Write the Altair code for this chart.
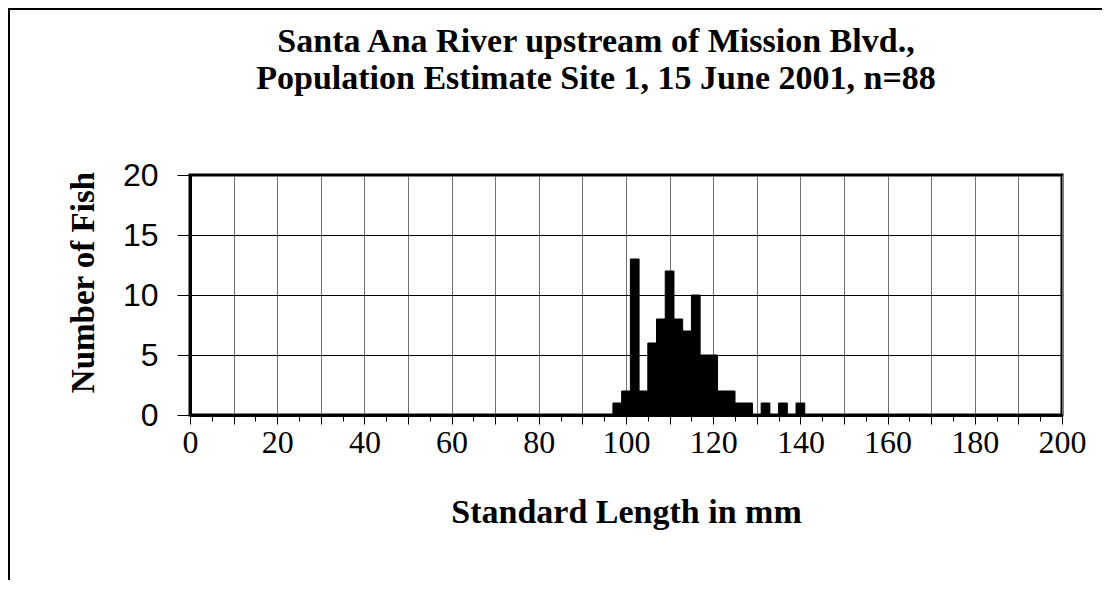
import altair as alt
import pandas as pd

# Histogram data (2 mm bins, centres in mm)
centers = [98, 100, 102, 104, 106, 108, 110, 112, 114, 116, 118, 120,
           122, 124, 126, 128, 130, 132, 134, 136, 138, 140]
counts = [1, 2, 13, 2, 6, 8, 12, 8, 7, 10, 5, 5,
          2, 2, 1, 1, 0, 1, 0, 1, 0, 1]
bin_width = 2

title_lines = ["Santa Ana River upstream of Mission Blvd.,",
               "Population Estimate Site 1, 15 June 2001, n=88"]
x_title = "Standard Length in mm"
y_title = "Number of Fish"
x_domain = [0, 200]
y_domain = [0, 20]
x_ticks = list(range(0, 201, 5))
y_ticks = [0, 5, 10, 15, 20]

df = pd.DataFrame({"center": centers, "count": counts})
df["start"] = df["center"] - bin_width / 2
df["end"] = df["center"] + bin_width / 2
df["zero"] = 0
df = df[df["count"] > 0]

serif = "Liberation Serif"
sans = "Liberation Sans"

x_axis = alt.Axis(
    values=x_ticks,
    title=x_title,
    titleFont=serif, titleFontSize=34, titleFontWeight="bold", titleColor="black",
    titleX=436, titleY=97, titleBaseline="middle", titleAlign="center",
    labelFont=serif, labelFontSize=32, labelColor="black",
    labelExpr="datum.value % 20 === 0 ? datum.label : ''",
    labelOverlap=False, labelFlush=False, labelPadding=3,
    tickSize={"condition": {"test": "datum.value % 10 === 0", "value": 9}, "value": 6},
    tickColor="black", tickWidth=1,
    grid=True, gridColor="#707070", gridWidth=1,
    gridOpacity={"condition": {"test": "datum.value % 10 === 0", "value": 1}, "value": 0},
    domainColor="black", domainWidth=3,
)

y_axis = alt.Axis(
    values=y_ticks,
    title=y_title,
    titleFont=serif, titleFontSize=33, titleFontWeight="bold", titleColor="black",
    titleX=-107, titleY=107, titleBaseline="middle", titleAlign="center",
    labelFont=sans, labelFontSize=32, labelColor="black", labelPadding=19,
    tickSize=13, tickColor="black", tickWidth=1,
    grid=True, gridColor="black", gridWidth=1,
    domainColor="black", domainWidth=3,
)

bars = alt.Chart(df).mark_rect(color="black", stroke="black", strokeWidth=1).encode(
    x=alt.X("start:Q", scale=alt.Scale(domain=x_domain, nice=False), axis=x_axis),
    x2="end:Q",
    y=alt.Y("count:Q", scale=alt.Scale(domain=y_domain, nice=False), axis=y_axis),
    y2="zero:Q",
)

one_row = pd.DataFrame({"a": [0]})

frame = alt.Chart(one_row).mark_rect(
    fillOpacity=0, stroke="black", strokeWidth=2
).encode(
    x=alt.value(-181), x2=alt.value(980),
    y=alt.value(-166), y2=alt.value(500),
)

title_marks = [
    alt.Chart(one_row).mark_text(
        text=line, font=serif, fontSize=34, fontWeight="bold", color="black",
        align="center", baseline="middle",
    ).encode(x=alt.value(406), y=alt.value(y))
    for line, y in zip(title_lines, [-133, -96])
]

chart = alt.layer(frame, *title_marks, bars).properties(
    width=872,
    height=240,
    autosize=alt.AutoSizeParams(type="none"),
    padding={"left": 182, "top": 167, "right": 40, "bottom": 165},
).configure_view(stroke="black", strokeWidth=3)

chart.save("out.html", embed_options={"renderer": "svg", "actions": False})
